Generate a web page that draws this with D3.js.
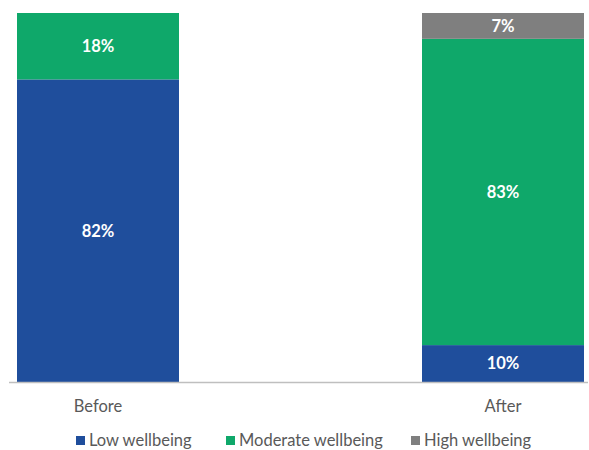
<!DOCTYPE html>
<html>
<head>
<meta charset="utf-8">
<script src="https://cdn.jsdelivr.net/npm/d3@7"></script>
<style>
  html, body { margin: 0; padding: 0; background: #fff; }
  svg { display: block; }
  text { font-family: Lato, "Open Sans", sans-serif; }
</style>
</head>
<body>
<svg id="chart" width="589" height="450"></svg>
<script>
// Share of respondents by wellbeing level, before and after
const periods = ["Before", "After"];
const seriesNames = ["Low wellbeing", "Moderate wellbeing", "High wellbeing"];
const lowValues = [82, 10];
const moderateValues = [18, 83];
const highValues = [0, 7];
const seriesColors = ["#1F4E9C", "#0FA86A", "#7F7F7F"];

const rows = periods.map((p, i) => ({
  period: p,
  "Low wellbeing": lowValues[i],
  "Moderate wellbeing": moderateValues[i],
  "High wellbeing": highValues[i]
}));

const svg = d3.select("#chart");
const plotTop = 13, plotBottom = 382;

const x = d3.scaleBand()
  .domain(periods)
  .range([8.9, 592.1])
  .paddingInner(0.6)
  .paddingOuter(0.02);

const y = d3.scaleLinear()
  .domain([0, 100])
  .range([plotBottom, plotTop]);

const color = d3.scaleOrdinal().domain(seriesNames).range(seriesColors);

const stacked = d3.stack().keys(seriesNames)(rows);

const layers = svg.append("g")
  .selectAll("g")
  .data(stacked)
  .join("g")
  .attr("fill", d => color(d.key));

layers.selectAll("rect")
  .data(d => d.filter(s => s[1] - s[0] > 0))
  .join("rect")
  .attr("x", d => x(d.data.period))
  .attr("width", x.bandwidth())
  .attr("y", d => y(d[1]))
  .attr("height", d => y(d[0]) - y(d[1]));

// Value labels centred in each segment
layers.selectAll("text")
  .data(d => d.filter(s => s[1] - s[0] > 0))
  .join("text")
  .attr("x", d => x(d.data.period) + x.bandwidth() / 2)
  .attr("y", d => y((d[0] + d[1]) / 2))
  .attr("dy", "0.36em")
  .attr("text-anchor", "middle")
  .attr("fill", "#ffffff")
  .attr("font-weight", "bold")
  .attr("font-size", "16.5px")
  .text(d => (d[1] - d[0]) + "%");

// Category axis
const axis = svg.append("g")
  .attr("transform", `translate(0,${plotBottom})`)
  .call(d3.axisBottom(x).tickSize(0).tickPadding(18));
axis.select(".domain").attr("d", "M9,0.5H588").attr("stroke", "#bfbfbf").attr("stroke-width", 1.3);
axis.selectAll("text")
  .attr("font-family", "Lato, 'Open Sans', sans-serif")
  .attr("font-size", "16.5px")
  .attr("fill", "#595959");

// Legend
const legendX = [76, 226, 411];
const legend = svg.append("g")
  .selectAll("g")
  .data(seriesNames)
  .join("g")
  .attr("transform", (d, i) => `translate(${legendX[i]},436)`);
legend.append("rect")
  .attr("width", 9).attr("height", 9)
  .attr("fill", d => color(d));
legend.append("text")
  .attr("x", 13)
  .attr("y", 10)
  .attr("font-size", "16.5px")
  .attr("fill", "#595959")
  .text(d => d);
</script>
</body>
</html>
